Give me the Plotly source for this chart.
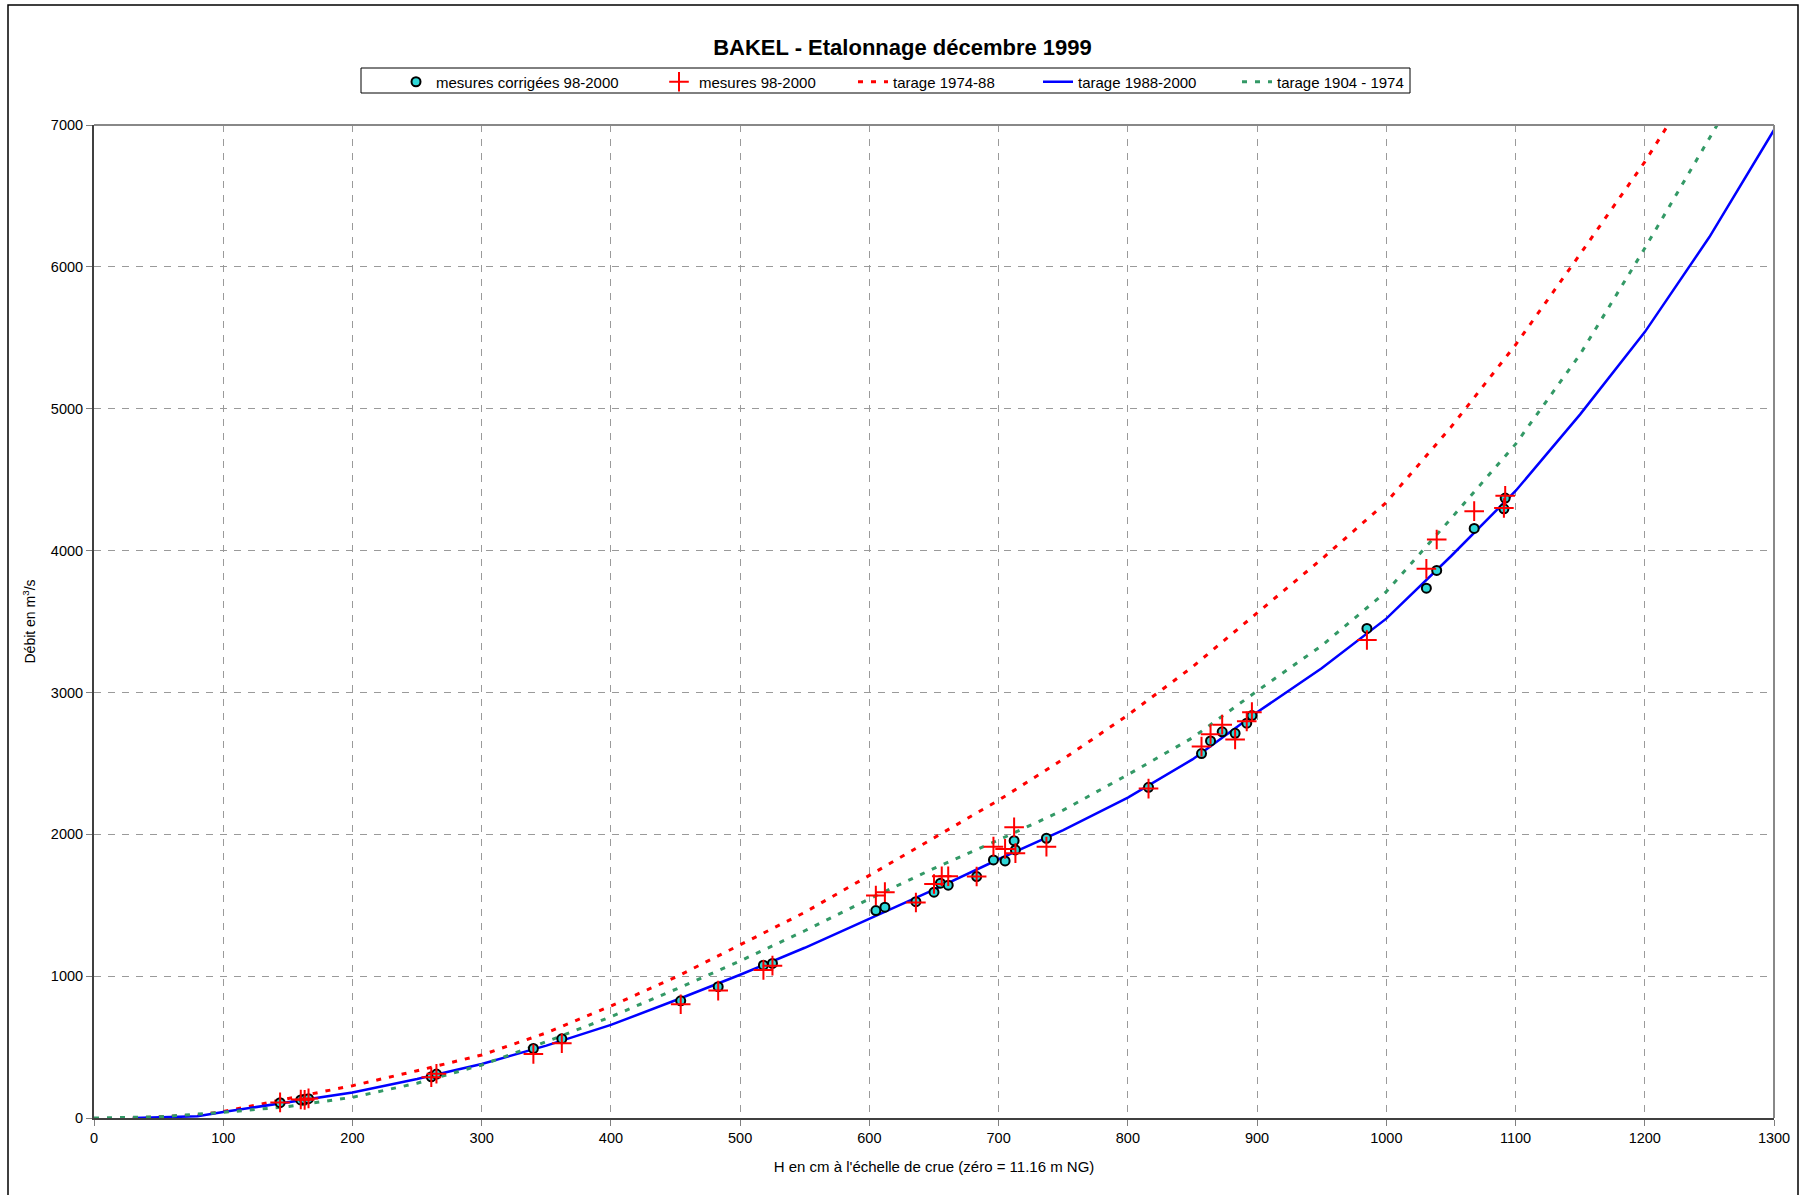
import plotly.graph_objects as go

# ---- data ----
h_corr = [144, 160, 163, 166, 261, 265, 340, 362, 454, 483, 518, 525, 605, 612, 636, 650, 655, 661,
          683, 696, 705, 712, 713, 737, 816, 857, 864, 873, 883, 892, 896, 985, 1031, 1039, 1068, 1091, 1092]
q_corr = [108, 127, 130, 136, 290, 310, 490, 558, 826, 926, 1077, 1090, 1462, 1486, 1525, 1592, 1655, 1641,
          1702, 1819, 1812, 1955, 1890, 1972, 2331, 2569, 2658, 2722, 2712, 2783, 2837, 3451, 3735, 3860, 4156, 4294, 4370]

h_mes = [144, 160, 163, 166, 261, 265, 340, 362, 454, 483, 518, 525, 605, 612, 636, 650, 656, 661,
         683, 696, 705, 712, 713, 737, 816, 857, 864, 873, 883, 892, 896, 985, 1031, 1039, 1068, 1091, 1092]
q_mes = [110, 130, 128, 138, 287, 312, 451, 527, 802, 898, 1044, 1074, 1568, 1592, 1519, 1650, 1704, 1704,
         1702, 1913, 1897, 2050, 1867, 1913, 2322, 2618, 2706, 2773, 2668, 2796, 2861, 3370, 3871, 4078, 4278, 4300, 4386]

h_t7488 = [30, 80, 100, 150, 200, 250, 300, 350, 400, 450, 500, 550, 600, 650, 700, 750, 800, 850,
           900, 950, 1000, 1050, 1100, 1150, 1200, 1218]
q_t7488 = [0, 20, 45, 139, 228, 333, 444, 600, 790, 992, 1220, 1450, 1710, 1975, 2240, 2530, 2840, 3180,
           3560, 3940, 4340, 4870, 5450, 6090, 6740, 7000]

h_t8800 = [30, 80, 100, 150, 200, 250, 300, 350, 400, 450, 500, 550, 600, 650, 700, 750, 800, 850,
           900, 950, 1000, 1050, 1100, 1150, 1200, 1250, 1300]
q_t8800 = [0, 12, 42, 112, 180, 275, 381, 510, 656, 830, 1010, 1200, 1405, 1610, 1824, 2030, 2258, 2528,
           2860, 3170, 3520, 3960, 4420, 4960, 5540, 6210, 6965]

h_t0474 = [0, 50, 100, 150, 200, 250, 300, 350, 400, 450, 500, 550, 600, 650, 700, 750, 800, 850,
           900, 950, 1000, 1050, 1100, 1150, 1200, 1256]
q_t0474 = [0, 8, 40, 80, 146, 245, 374, 538, 714, 907, 1107, 1320, 1545, 1760, 1960, 2170, 2420, 2680,
           3010, 3330, 3710, 4225, 4750, 5384, 6131, 7000]

x_ticks = list(range(0, 1301, 100))
y_ticks = list(range(0, 7001, 1000))

FONT = "Liberation Sans, Arial, sans-serif"

W, H = 1805, 1195
ML, MR, MT, MB = 94, 31, 125, 77
PW, PH = W - ML - MR, H - MT - MB


def px2paper_x(px):
    return (px - ML) / PW


def px2paper_y(py):
    return (H - MB - py) / PH


fig = go.Figure()

fig.add_trace(go.Scatter(x=h_t7488, y=q_t7488, mode="lines", name="tarage 1974-88",
                         line=dict(color="#FF0000", width=3, dash="5px,8px"), legendrank=3,
                         legendwidth=140))
fig.add_trace(go.Scatter(x=h_t8800, y=q_t8800, mode="lines", name="tarage 1988-2000",
                         line=dict(color="#0000FF", width=2.5), legendrank=4, legendwidth=154))
fig.add_trace(go.Scatter(x=h_t0474, y=q_t0474, mode="lines", name="tarage 1904 - 1974",
                         line=dict(color="#339966", width=3, dash="5px,8px"), legendrank=5,
                         legendwidth=124))
fig.add_trace(go.Scatter(x=h_corr, y=q_corr, mode="markers", name="mesures corrigées 98-2000",
                         marker=dict(symbol="circle", size=9, color="#2ED8D8",
                                     line=dict(color="#000000", width=2)),
                         legendrank=1, legendwidth=218))
fig.add_trace(go.Scatter(x=h_mes, y=q_mes, mode="markers", name="mesures 98-2000",
                         marker=dict(symbol="cross-thin", size=14,
                                     line=dict(color="#FF0000", width=2)),
                         legendrank=2, legendwidth=149))

axis_common = dict(
    showgrid=True, gridcolor="#9a9a9a", gridwidth=1, griddash="7px,7px",
    zeroline=False, showline=True, linecolor="#404040", linewidth=2,
    ticks="outside", ticklen=6, tickcolor="#808080", tickwidth=1,
    tickfont=dict(family=FONT, size=14.5, color="#000000"),
)

fig.update_xaxes(range=[0, 1300], tickvals=x_ticks, ticktext=[str(v) for v in x_ticks],
                 title=dict(text="H en cm à l'échelle de crue (zéro = 11.16 m NG)",
                            font=dict(family=FONT, size=15, color="#000000"), standoff=16),
                 **axis_common)
fig.update_yaxes(range=[0, 7000], tickvals=y_ticks, ticktext=[str(v) for v in y_ticks],
                 title=dict(text="Débit en m<sup>3</sup>/s",
                            font=dict(family=FONT, size=14, color="#000000"), standoff=12),
                 **axis_common)

shapes = [
    # top and right frame of plot area (grey)
    dict(type="line", xref="paper", yref="paper", x0=0, x1=1, y0=1, y1=1,
         line=dict(color="#888888", width=2)),
    dict(type="line", xref="paper", yref="paper", x0=1, x1=1, y0=0, y1=1,
         line=dict(color="#888888", width=2)),
    # outer chart border
    dict(type="rect", xref="paper", yref="paper",
         x0=px2paper_x(8), x1=px2paper_x(1798), y0=px2paper_y(1205), y1=px2paper_y(5),
         line=dict(color="#000000", width=1.5), fillcolor="rgba(0,0,0,0)", layer="below"),
    # legend box
    dict(type="rect", xref="paper", yref="paper",
         x0=px2paper_x(361), x1=px2paper_x(1410), y0=px2paper_y(93), y1=px2paper_y(68),
         line=dict(color="#000000", width=1), fillcolor="rgba(0,0,0,0)"),
]

fig.update_layout(
    width=W, height=H,
    margin=dict(l=ML, r=MR, t=MT, b=MB, autoexpand=False),
    paper_bgcolor="#FFFFFF", plot_bgcolor="#FFFFFF",
    font=dict(family=FONT, color="#000000"),
    title=dict(text="<b>BAKEL - Etalonnage décembre 1999</b>",
               font=dict(family=FONT, size=22, color="#000000"),
               x=0.5, xanchor="center", y=1 - 47 / H, yanchor="middle"),
    legend=dict(orientation="h", x=px2paper_x(396), y=px2paper_y(65.5), xanchor="left", yanchor="top",
                borderwidth=0, bgcolor="rgba(0,0,0,0)",
                font=dict(family=FONT, size=15, color="#000000"), itemwidth=30,
                tracegroupgap=0),
    shapes=shapes,
    showlegend=True,
)

fig.write_html("out.html")
